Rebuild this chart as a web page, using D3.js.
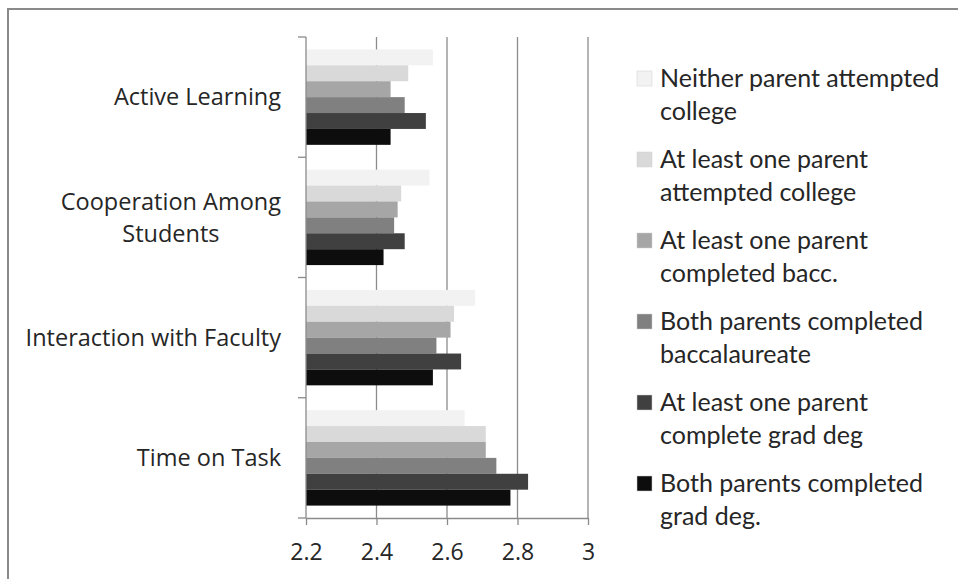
<!DOCTYPE html>
<html>
<head>
<meta charset="utf-8">
<script src="https://cdn.jsdelivr.net/npm/d3@7"></script>
<style>
  html, body { margin: 0; padding: 0; background: #fff; }
  svg { display: block; }
</style>
</head>
<body>
<svg id="chart" width="958" height="579"></svg>
<script>
// Categories (top to bottom) and their label lines
const categories = ["Active Learning", "Cooperation Among Students", "Interaction with Faculty", "Time on Task"];
const categoryLines = [["Active Learning"], ["Cooperation Among", "Students"], ["Interaction with Faculty"], ["Time on Task"]];

// Series (parental education groups)
const seriesNames = [
  "Neither parent attempted college",
  "At least one parent attempted college",
  "At least one parent completed bacc.",
  "Both parents completed baccalaureate",
  "At least one parent complete grad deg",
  "Both parents completed grad deg."
];
const legendLines = [
  ["Neither parent attempted", "college"],
  ["At least one parent", "attempted college"],
  ["At least one parent", "completed bacc."],
  ["Both parents completed", "baccalaureate"],
  ["At least one parent", "complete grad deg"],
  ["Both parents completed", "grad deg."]
];
const seriesColors = ["#f2f2f2", "#d9d9d9", "#a6a6a6", "#808080", "#404040", "#0d0d0d"];

// Mean scores per series, in category order
const neitherAttempted   = [2.56, 2.55, 2.68, 2.65];
const oneAttempted       = [2.49, 2.47, 2.62, 2.71];
const oneCompletedBacc   = [2.44, 2.46, 2.61, 2.71];
const bothCompletedBacc  = [2.48, 2.45, 2.57, 2.74];
const oneGradDeg         = [2.54, 2.48, 2.64, 2.83];
const bothGradDeg        = [2.44, 2.42, 2.56, 2.78];
const seriesValues = [neitherAttempted, oneAttempted, oneCompletedBacc, bothCompletedBacc, oneGradDeg, bothGradDeg];

const xTicks = [2.2, 2.4, 2.6, 2.8, 3];

const textColor = "#262626";
const svg = d3.select("#chart");

// Outer frame
svg.append("rect")
  .attr("x", 8).attr("y", 9).attr("width", 960).attr("height", 600)
  .attr("fill", "#fff").attr("stroke", "#8a8a8a").attr("stroke-width", 2);

const plot = { left: 306, right: 588, top: 37, bottom: 518 };

const x = d3.scaleLinear().domain([2.2, 3]).range([plot.left, plot.right]);
const y = d3.scaleBand().domain(categories).range([plot.top, plot.bottom]).padding(0);
const ySub = d3.scaleBand().domain(d3.range(seriesNames.length))
  .range([0, y.bandwidth()]).paddingInner(0).paddingOuter(0.78);

// Vertical gridlines
svg.append("g").selectAll("line")
  .data(xTicks.slice(1))
  .join("line")
  .attr("x1", d => x(d)).attr("x2", d => x(d))
  .attr("y1", plot.top).attr("y2", plot.bottom)
  .attr("stroke", "#8c8c8c").attr("stroke-width", 1.3);

// Bars
const groups = svg.append("g").selectAll("g")
  .data(categories)
  .join("g")
  .attr("transform", d => `translate(0,${y(d)})`);

groups.selectAll("rect")
  .data((c, ci) => seriesValues.map((vals, si) => ({ si, v: vals[ci] })))
  .join("rect")
  .attr("x", x(2.2))
  .attr("y", d => ySub(d.si))
  .attr("width", d => x(d.v) - x(2.2))
  .attr("height", ySub.bandwidth())
  .attr("fill", d => seriesColors[d.si]);

// Bottom value axis
const xAxis = svg.append("g")
  .attr("transform", `translate(0,${plot.bottom})`)
  .call(d3.axisBottom(x).tickValues(xTicks).tickFormat(d3.format("")).tickSize(7).tickPadding(19).tickSizeOuter(0));
xAxis.select(".domain").attr("stroke", "#8a8a8a").attr("stroke-width", 1.3);
xAxis.selectAll(".tick line").attr("stroke", "#8a8a8a").attr("stroke-width", 1.3);
xAxis.selectAll(".tick text")
  .attr("fill", textColor).attr("font-family", "'Open Sans', sans-serif").attr("font-size", 23);

// Left category axis line and band ticks
svg.append("line")
  .attr("x1", plot.left).attr("x2", plot.left)
  .attr("y1", plot.top).attr("y2", plot.bottom)
  .attr("stroke", "#8a8a8a").attr("stroke-width", 1.3);
const bandEdges = categories.map(c => y(c)).concat([plot.bottom]);
svg.append("g").selectAll("line")
  .data(bandEdges)
  .join("line")
  .attr("x1", plot.left - 8).attr("x2", plot.left)
  .attr("y1", d => d).attr("y2", d => d)
  .attr("stroke", "#8a8a8a").attr("stroke-width", 1.3);

// Category labels (multi-line labels are centred on their widest line)
const labelRight = 281;
categories.forEach((c, i) => {
  const lines = categoryLines[i];
  const cy = y(c) + y.bandwidth() / 2;
  const lineH = 32;
  const g = svg.append("g");
  const texts = g.selectAll("text")
    .data(lines)
    .join("text")
    .attr("y", (d, j) => cy + (j - (lines.length - 1) / 2) * lineH)
    .attr("dy", "0.35em")
    .attr("fill", textColor)
    .attr("font-family", "'Open Sans', sans-serif")
    .attr("font-size", 23.5)
    .text(d => d);
  const widths = texts.nodes().map(n => n.getComputedTextLength());
  const maxW = d3.max(widths);
  texts.attr("text-anchor", "middle").attr("x", labelRight - maxW / 2);
});

// Legend
const legendX = 637, legendTop = 78, itemStep = 81, legendLineH = 33;
const legend = svg.append("g").selectAll("g")
  .data(legendLines)
  .join("g")
  .attr("transform", (d, i) => `translate(${legendX},${legendTop + i * itemStep})`);
legend.append("rect")
  .attr("x", 0).attr("y", -7).attr("width", 15).attr("height", 15)
  .attr("fill", (d, i) => seriesColors[i])
  .attr("stroke", "#d0d0d0").attr("stroke-width", 0.5);
legend.selectAll("text")
  .data(d => d)
  .join("text")
  .attr("x", 23)
  .attr("y", (d, j) => j * legendLineH)
  .attr("dy", "0.35em")
  .attr("fill", textColor)
  .attr("font-family", "Lato, sans-serif")
  .attr("font-size", 25)
  .text(d => d);
</script>
</body>
</html>
